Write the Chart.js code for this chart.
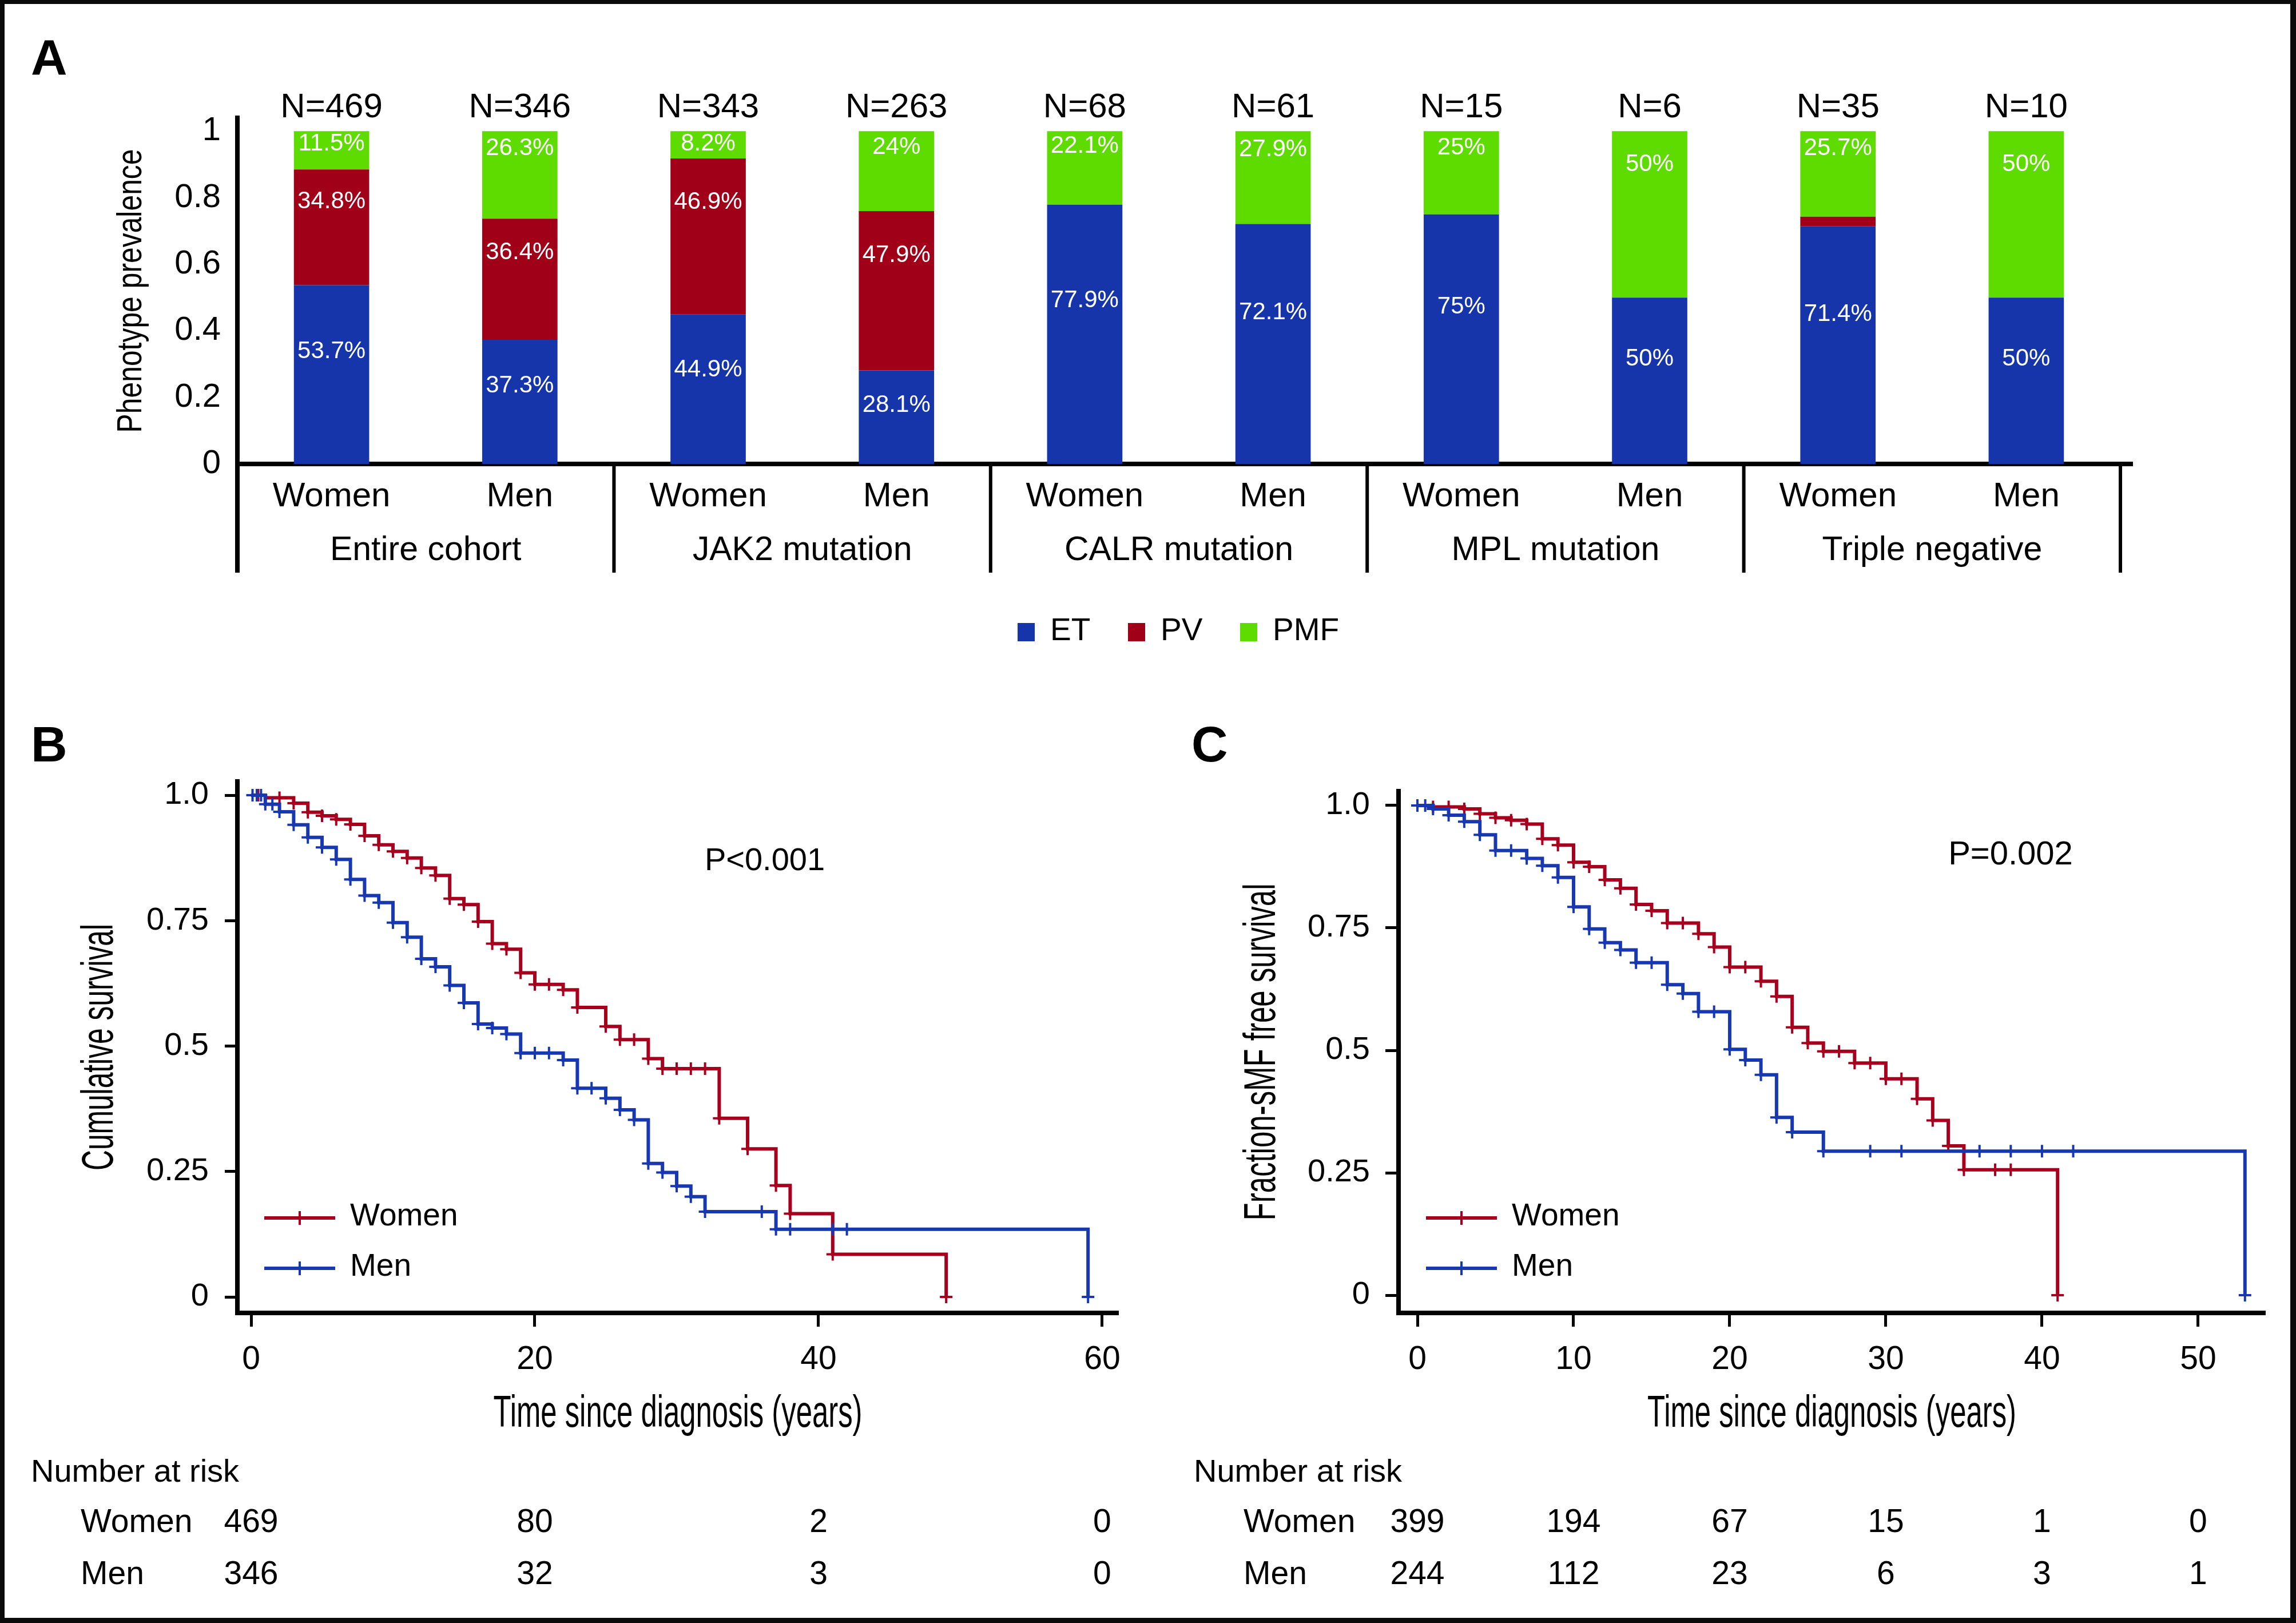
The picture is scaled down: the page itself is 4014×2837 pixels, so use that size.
<!DOCTYPE html>
<html>
<head>
<meta charset="utf-8">
<title>Phenotype prevalence and survival by sex</title>
<script src="https://cdn.jsdelivr.net/npm/chart.js@4.4.1/dist/chart.umd.min.js"></script>
<style>
  html, body { margin: 0; padding: 0; background: #fff; }
  #fig { position: relative; width: 4014px; height: 2837px; overflow: hidden; background: #fff;
         font-family: 'Liberation Sans', Arial, Helvetica, sans-serif; color: #000; }
  #fig canvas { position: absolute; }
  #frame { position: absolute; left: 0; top: 0; width: 4014px; height: 2837px; box-sizing: border-box;
           border-style: solid; border-color: #0b0b0b; border-width: 7px 10px 9px 8px; z-index: 10; }
  .t { position: absolute; line-height: 1; white-space: nowrap; }
  .c { transform: translateX(-50%); }
  .panel { font-weight: bold; font-size: 88px; }
  .sw { position: absolute; width: 30px; height: 32px; }
  svg.lg { position: absolute; }
</style>
</head>
<body>
<div id="fig">
  <div class="t panel" style="left:54px;top:56px">A</div>
  <div class="t panel" style="left:54px;top:1257px">B</div>
  <div class="t panel" style="left:2083px;top:1257px">C</div>
  <canvas id="chartA" width="3587" height="921" style="left:180px;top:100px"></canvas>
  <canvas id="chartB" width="1862" height="1210" style="left:138px;top:1300px"></canvas>
  <canvas id="chartC" width="1824" height="1210" style="left:2171px;top:1300px"></canvas>
  <div class="t c" style="left:1337px;top:1474px;font-size:56px">P&lt;0.001</div>
  <div class="t c" style="left:3515px;top:1462px;font-size:58px">P=0.002</div>
  <div id="frame"></div>
</div>
<script>
// ---------- panel A: phenotype by sex and driver mutation ----------
const aCategories = ['Women', 'Men', 'Women', 'Men', 'Women', 'Men', 'Women', 'Men', 'Women', 'Men'];
const aGroups = ['Entire cohort', 'JAK2 mutation', 'CALR mutation', 'MPL mutation', 'Triple negative'];
const aCounts = [469, 346, 343, 263, 68, 61, 15, 6, 35, 10];
const aET  = [53.7, 37.3, 44.9, 28.1, 77.9, 72.1, 75, 50, 71.4, 50];
const aPV  = [34.8, 36.4, 46.9, 47.9, 0, 0, 0, 0, 2.9, 0];
const aPMF = [11.5, 26.3, 8.2, 24, 22.1, 27.9, 25, 50, 25.7, 50];
const aYTicks = [0, 20, 40, 60, 80, 100];
const aYLabels = ['0', '0.2', '0.4', '0.6', '0.8', '1'];

// ---------- panel B: overall survival ----------
const bWomenT = [0, 1, 3, 4, 5, 6, 7, 8, 9, 10, 11, 12, 13, 14, 15, 16, 17, 18, 19, 20, 22, 23, 25, 26, 28, 29, 33, 35, 37, 38, 41, 49];
const bWomenS = [1, 0.995, 0.984, 0.966, 0.959, 0.952, 0.942, 0.919, 0.901, 0.888, 0.875, 0.855, 0.84, 0.794, 0.782, 0.748, 0.704, 0.693, 0.646, 0.623, 0.612, 0.577, 0.539, 0.513, 0.475, 0.455, 0.356, 0.295, 0.222, 0.166, 0.085, 0];
const bWomenCens = [0.5, 2, 3, 4, 5, 6, 7, 8, 9, 10, 11, 12, 13, 14, 15, 16, 17, 18, 19, 20, 21, 22, 23, 25, 26, 27, 28, 29, 30, 31, 32, 33, 35, 37, 38, 41, 49];
const bMenT = [0, 1, 2, 3, 4, 5, 6, 7, 8, 9, 10, 11, 12, 13, 14, 15, 16, 17, 18, 19, 22, 23, 25, 26, 27, 28, 29, 30, 31, 32, 37, 59];
const bMenS = [1, 0.982, 0.967, 0.941, 0.916, 0.896, 0.872, 0.832, 0.8, 0.786, 0.746, 0.717, 0.674, 0.658, 0.621, 0.586, 0.544, 0.536, 0.524, 0.486, 0.472, 0.416, 0.396, 0.373, 0.353, 0.266, 0.248, 0.221, 0.2, 0.17, 0.135, 0];
const bMenCens = [0.1, 0.4, 0.7, 1, 1.5, 2, 3, 4, 5, 6, 7, 8, 9, 10, 11, 12, 13, 14, 15, 16, 17, 18, 19, 20, 21, 22, 23, 24, 25, 26, 27, 28, 29, 30, 31, 32, 36, 37, 38, 41, 42, 59];
const bXTicks = [0, 20, 40, 60];
const bRiskWomen = [469, 80, 2, 0];
const bRiskMen = [346, 32, 3, 0];

// ---------- panel C: sMF-free survival ----------
const cWomenT = [0, 1, 3, 4, 5, 6, 7, 8, 9, 10, 11, 12, 13, 14, 15, 16, 18, 19, 20, 22, 23, 24, 25, 26, 28, 30, 32, 33, 34, 35, 41];
const cWomenS = [1, 0.997, 0.993, 0.983, 0.975, 0.97, 0.962, 0.932, 0.919, 0.884, 0.875, 0.848, 0.831, 0.798, 0.785, 0.76, 0.738, 0.711, 0.67, 0.641, 0.61, 0.547, 0.515, 0.498, 0.474, 0.442, 0.401, 0.357, 0.305, 0.256, 0];
const cWomenCens = [1, 2, 3, 4, 5, 6, 7, 8, 9, 10, 11, 12, 13, 14, 15, 16, 17, 18, 19, 20, 21, 22, 23, 24, 25, 26, 27, 28, 29, 30, 31, 32, 33, 34, 35, 37, 38, 41];
const cMenT = [0, 1, 2, 3, 4, 5, 7, 8, 9, 10, 11, 12, 13, 14, 16, 17, 18, 20, 21, 22, 23, 24, 26, 53];
const cMenS = [1, 0.993, 0.98, 0.967, 0.94, 0.908, 0.892, 0.877, 0.853, 0.793, 0.748, 0.72, 0.705, 0.679, 0.634, 0.616, 0.579, 0.502, 0.48, 0.45, 0.363, 0.333, 0.294, 0];
const cMenCens = [0, 0.5, 1, 2, 3, 4, 5, 6, 7, 8, 9, 10, 11, 12, 13, 14, 15, 16, 17, 18, 19, 20, 21, 22, 23, 24, 26, 29, 31, 36, 38, 40, 42, 53];
const cXTicks = [0, 10, 20, 30, 40, 50];
const cRiskWomen = [399, 194, 67, 15, 1, 0];
const cRiskMen = [244, 112, 23, 6, 3, 1];

const survTicks = [0, 0.25, 0.5, 0.75, 1];
const survLabels = ['0', '0.25', '0.5', '0.75', '1.0'];

const SANS = "'Liberation Sans', Arial, Helvetica, sans-serif";
const RED = '#a6001e', BLUE = '#1838b0';

Chart.defaults.font.family = SANS;
Chart.defaults.color = '#000';

const fig = document.getElementById('fig');
const frameEl = document.getElementById('frame');
function addText(txt, left, top, size, center) {
  const d = document.createElement('div');
  d.className = center ? 't c' : 't';
  d.style.left = left + 'px';
  d.style.top = top + 'px';
  d.style.fontSize = size + 'px';
  d.textContent = txt;
  fig.insertBefore(d, frameEl);
  return d;
}
const fixW = w => s => { s.width = w; };
const fixH = h => s => { s.height = h; };

// axis titles set in a condensed face: no narrow font is installed, so squeeze the regular one
const squeezedTitles = {
  id: 'squeezedTitles',
  afterDraw(chart, args, opts) {
    const { ctx, chartArea: ca } = chart;
    const draw = (t, cx, cy, rot) => {
      ctx.save();
      ctx.fillStyle = '#000';
      ctx.textAlign = 'center';
      ctx.textBaseline = 'middle';
      ctx.font = `${t.size}px ${SANS}`;
      const sx = t.length / ctx.measureText(t.text).width;
      ctx.translate(cx, cy);
      ctx.rotate(rot);
      ctx.scale(sx, 1);
      ctx.fillText(t.text, 0, 0);
      ctx.restore();
    };
    if (opts.x) draw(opts.x, (ca.left + ca.right) / 2, ca.bottom + opts.x.offset, 0);
    if (opts.y) draw(opts.y, ca.left + opts.y.offset, (ca.top + ca.bottom) / 2, -Math.PI / 2);
  }
};

// white % labels inside the stacks, N= above each bar
const barLabels = {
  id: 'barLabels',
  afterDatasetsDraw(chart) {
    const { ctx } = chart;
    ctx.save();
    ctx.fillStyle = '#fff';
    ctx.font = `42px ${SANS}`;
    ctx.textAlign = 'center';
    ctx.textBaseline = 'middle';
    chart.data.datasets.forEach((ds, di) => {
      chart.getDatasetMeta(di).data.forEach((bar, i) => {
        const v = ds.data[i];
        if (v < 5) return;
        const top = Math.min(bar.y, bar.base);
        const h = Math.abs(bar.base - bar.y);
        ctx.fillText(v + '%', bar.x, top + Math.max(22, h * ds.labelAt));
      });
    });
    ctx.fillStyle = '#000';
    ctx.font = `60px ${SANS}`;
    ctx.textBaseline = 'alphabetic';
    const yN = chart.scales.y.getPixelForValue(100) - 24;
    chart.getDatasetMeta(0).data.forEach((bar, i) => ctx.fillText('N=' + aCounts[i], bar.x, yN));
    ctx.restore();
  }
};

// dividers between the mutation groups below the axis
const groupLines = {
  id: 'groupLines',
  afterDraw(chart) {
    const { ctx, chartArea, scales: { x, x2 } } = chart;
    const step = (x.right - x.left) / aCategories.length;
    ctx.save();
    ctx.strokeStyle = '#000';
    for (let k = 0; k <= aCategories.length; k += 2) {
      const px = x.left + k * step;
      ctx.lineWidth = k === 0 ? 8 : 6;
      ctx.beginPath();
      ctx.moveTo(px, chartArea.bottom);
      ctx.lineTo(px, x2.bottom - 20);
      ctx.stroke();
    }
    ctx.lineWidth = 8;
    ctx.beginPath();
    ctx.moveTo(x.right - 4, chartArea.bottom);
    ctx.lineTo(x.right + 22, chartArea.bottom);
    ctx.stroke();
    ctx.restore();
  }
};

const chartA = new Chart(document.getElementById('chartA'), {
  type: 'bar',
  data: {
    labels: aCategories,
    datasets: [
      { label: 'ET', data: aET, backgroundColor: '#1635aa', labelAt: 0.37 },
      { label: 'PV', data: aPV, backgroundColor: '#a00018', labelAt: 0.28 },
      { label: 'PMF', data: aPMF, backgroundColor: '#5edc00', labelAt: 0.2 }
    ]
  },
  options: {
    responsive: false, animation: false, devicePixelRatio: 1,
    layout: { padding: { top: 106, right: 60, left: 0, bottom: 0 } },
    datasets: { bar: { barPercentage: 0.4, categoryPercentage: 1, borderWidth: 0 } },
    plugins: {
      legend: { display: false }, tooltip: { enabled: false },
      squeezedTitles: { y: { text: 'Phenotype prevalence', size: 62, length: 496, offset: -185 } }
    },
    scales: {
      x: {
        stacked: true, offset: true, weight: 0,
        grid: { display: false, drawTicks: false },
        border: { display: true, width: 8, color: '#000' },
        ticks: { font: { size: 60 }, padding: 21, maxRotation: 0, autoSkip: false },
        afterFit: fixH(100)
      },
      x2: {
        type: 'category', labels: aGroups, position: 'bottom', offset: true, weight: 1,
        grid: { display: false, drawTicks: false },
        border: { display: false },
        ticks: { font: { size: 59 }, padding: 16, maxRotation: 0, autoSkip: false },
        afterFit: fixH(110)
      },
      y: {
        stacked: true, min: 0, max: 104,
        afterBuildTicks: s => { s.ticks = aYTicks.map(v => ({ value: v })); },
        ticks: { callback: v => aYLabels[aYTicks.indexOf(v)], font: { size: 58 }, padding: 29 },
        grid: { display: false, drawTicks: false },
        border: { display: true, width: 8, color: '#000' },
        afterFit: fixW(235)
      }
    }
  },
  plugins: [barLabels, groupLines, squeezedTitles]
});

// legend for A, built from the datasets
(function () {
  let x = 1779;
  chartA.data.datasets.forEach(ds => {
    const sw = document.createElement('div');
    sw.className = 'sw';
    sw.style.left = x + 'px';
    sw.style.top = '1089px';
    sw.style.background = ds.backgroundColor;
    fig.insertBefore(sw, frameEl);
    const d = addText(ds.label, x + 57, 1073, 55);
    x += 57 + d.offsetWidth + 66;
  });
})();

// ---------- Kaplan-Meier panels ----------
function levelAt(times, surv, t) {
  let s = surv[0];
  for (let i = 0; i < times.length; i++) if (times[i] <= t) s = surv[i];
  return s;
}
function stepSet(label, times, surv, color) {
  return {
    label, data: times.map((t, i) => ({ x: t, y: surv[i] })),
    showLine: true, stepped: true, borderColor: color, borderWidth: 6,
    borderJoinStyle: 'miter', pointRadius: 0, pointHoverRadius: 0
  };
}
function censorSet(cens, times, surv, color) {
  return {
    data: cens.map(t => ({ x: t, y: levelAt(times, surv, t) })),
    showLine: false, pointStyle: 'cross', pointRadius: 11, pointHoverRadius: 11,
    pointBorderWidth: 4, borderColor: color, backgroundColor: color
  };
}

function survivalChart(id, o) {
  return new Chart(document.getElementById(id), {
    type: 'scatter',
    data: {
      datasets: [
        censorSet(o.menCens, o.menT, o.menS, BLUE),
        stepSet('Men', o.menT, o.menS, BLUE),
        censorSet(o.womenCens, o.womenT, o.womenS, RED),
        stepSet('Women', o.womenT, o.womenS, RED)
      ]
    },
    options: {
      responsive: false, animation: false, devicePixelRatio: 1,
      layout: { padding: { top: o.padTop, right: o.padRight, left: 0, bottom: 0 } },
      plugins: {
        legend: { display: false }, tooltip: { enabled: false },
        squeezedTitles: {
          x: { text: 'Time since diagnosis (years)', size: 77, length: 645, offset: 178 },
          y: { text: o.yTitle, size: 77, length: o.yTitleLength, offset: o.yTitleOffset }
        }
      },
      scales: {
        x: {
          type: 'linear', min: o.xMin, max: o.xMax,
          afterBuildTicks: s => { s.ticks = o.xTicks.map(v => ({ value: v })); },
          ticks: { font: { size: 57 }, padding: 24, callback: v => String(v) },
          grid: { drawOnChartArea: false, tickLength: 24, tickWidth: 5, tickColor: '#000' },
          border: { width: 8, color: '#000' },
          afterFit: fixH(215)
        },
        y: {
          min: o.yMin, max: o.yMax,
          afterBuildTicks: s => { s.ticks = survTicks.map(v => ({ value: v })); },
          ticks: { callback: v => survLabels[survTicks.indexOf(v)], font: { size: 56 }, padding: o.yPad },
          grid: { drawOnChartArea: false, tickLength: o.yTick, tickWidth: 5, tickColor: '#000' },
          border: { width: 8, color: '#000' },
          afterFit: fixW(o.yWidth)
        }
      }
    },
    plugins: [squeezedTitles]
  });
}

function kmLegend(chart, left, lineY) {
  chart.data.datasets.filter(d => d.label).reverse().forEach((d, i) => {
    const y = lineY + i * 88;
    fig.insertAdjacentHTML('beforeend',
      `<svg class="lg" style="left:${left}px;top:${y - 14}px" width="124" height="28">` +
      `<line x1="0" y1="14" x2="124" y2="14" stroke="${d.borderColor}" stroke-width="6"/>` +
      `<line x1="62" y1="2" x2="62" y2="26" stroke="${d.borderColor}" stroke-width="4"/></svg>`);
    addText(d.label, left + 150, y - 33, 55);
  });
  fig.appendChild(frameEl);
}

function riskTable(chart, canvasLeft, labelLeft, ticks, women, men) {
  const xs = chart.scales.x;
  addText('Number at risk', labelLeft, 2543, 56);
  addText('Women', labelLeft + 87, 2630, 57);
  addText('Men', labelLeft + 87, 2721, 57);
  ticks.forEach((t, i) => {
    const px = canvasLeft + xs.getPixelForValue(t);
    addText(String(women[i]), px, 2630, 57, true);
    addText(String(men[i]), px, 2721, 57, true);
  });
}

const chartB = survivalChart('chartB', {
  womenT: bWomenT, womenS: bWomenS, womenCens: bWomenCens,
  menT: bMenT, menS: bMenS, menCens: bMenCens,
  xTicks: bXTicks, xMin: -0.968, xMax: 61.13, yMin: -0.0319, yMax: 1.0274,
  yTitle: 'Cumulative survival', yTitleLength: 431, yTitleOffset: -239,
  yWidth: 277, yPad: 28, yTick: 22, padTop: 66, padRight: 45
});
const chartC = survivalChart('chartC', {
  womenT: cWomenT, womenS: cWomenS, womenCens: cWomenCens,
  menT: cMenT, menS: cMenS, menCens: cMenCens,
  xTicks: cXTicks, xMin: -1.209, xMax: 54.29, yMin: -0.0362, yMax: 1.0292,
  yTitle: 'Fraction-sMF free survival', yTitleLength: 589, yTitleOffset: -237,
  yWidth: 274, yPad: 27, yTick: 23, padTop: 83, padRight: 35
});

kmLegend(chartB, 462, 2129);
kmLegend(chartC, 2493, 2129);
riskTable(chartB, 138, 54, bXTicks, bRiskWomen, bRiskMen);
riskTable(chartC, 2171, 2087, cXTicks, cRiskWomen, cRiskMen);
</script>
</body>
</html>
